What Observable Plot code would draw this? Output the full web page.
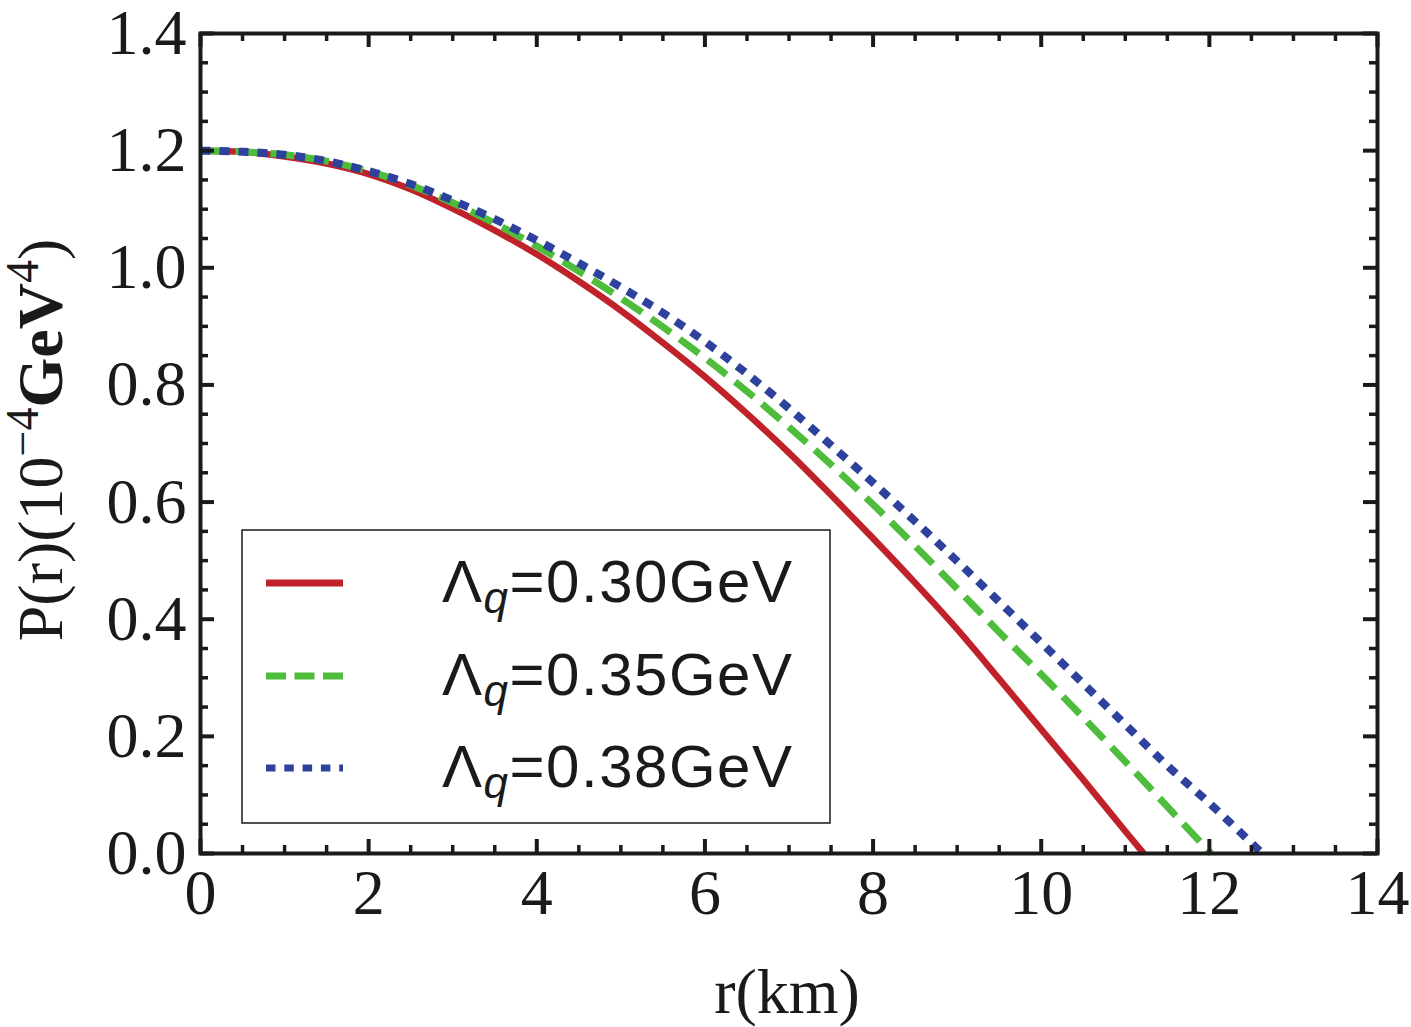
<!DOCTYPE html>
<html>
<head>
<meta charset="utf-8">
<script src="https://cdn.jsdelivr.net/npm/d3@7"></script>
<script src="https://cdn.jsdelivr.net/npm/@observablehq/plot@0.6"></script>
<style>
  body { margin: 0; background: #fff; }
  #chart { position: relative; width: 1411px; height: 1027px; }
</style>
</head>
<body>
<div id="chart"></div>
<script>
// ---- data ----
const seriesNames = ["0.30", "0.35", "0.38"];
const seriesColors = ["#c0222a", "#4dbd3b", "#2e419c"];

const rRed = [0,0.5,1,1.5,2,2.5,3,3.5,4,4.5,5,5.5,6,6.5,7,7.5,8,8.5,9,9.5,10,10.5,11,11.22];
const pRed = [1.200,1.198,1.190,1.178,1.160,1.134,1.101,1.064,1.023,0.977,0.927,0.872,0.814,0.751,0.684,0.612,0.538,0.462,0.383,0.298,0.212,0.126,0.038,0];

const rGreen = [0,0.5,1,1.5,2,2.5,3,3.5,4,4.5,5,5.5,6,6.5,7,7.5,8,8.5,9,9.5,10,10.5,11,11.5,12.02];
const pGreen = [1.200,1.198,1.193,1.182,1.165,1.141,1.111,1.076,1.037,0.994,0.948,0.899,0.846,0.789,0.728,0.664,0.596,0.525,0.452,0.378,0.306,0.232,0.157,0.080,0];

const rBlue = [0,0.5,1,1.5,2,2.5,3,3.5,4,4.5,5,5.5,6,6.5,7,7.5,8,8.5,9,9.5,10,10.5,11,11.5,12,12.5,12.63];
const pBlue = [1.200,1.198,1.193,1.182,1.165,1.143,1.115,1.083,1.047,1.008,0.967,0.923,0.874,0.819,0.760,0.697,0.633,0.567,0.499,0.430,0.360,0.290,0.220,0.150,0.086,0.018,0];

const xMajor = [0,2,4,6,8,10,12,14];
const xMinor = [0.5,1,1.5,2.5,3,3.5,4.5,5,5.5,6.5,7,7.5,8.5,9,9.5,10.5,11,11.5,12.5,13,13.5];
const yMajor = [0,0.2,0.4,0.6,0.8,1.0,1.2,1.4];
const yMinor = [0.05,0.1,0.15,0.25,0.3,0.35,0.45,0.5,0.55,0.65,0.7,0.75,0.85,0.9,0.95,1.05,1.1,1.15,1.25,1.3,1.35];

// ---- build table ----
const rows = [];
[[rRed, pRed], [rGreen, pGreen], [rBlue, pBlue]].forEach(([rs, ps], i) => {
  rs.forEach((r, j) => rows.push({series: seriesNames[i], r, p: ps[j]}));
});
const bySeries = name => rows.filter(d => d.series === name);

// ---- layout ----
const W = 1411, H = 1027;
const mL = 200, mR = 34, mT = 33, mB = 174;
const innerW = W - mL - mR, innerH = H - mT - mB;
const majLen = 14, minLen = 8;
const serif = "'Liberation Serif', 'Times New Roman', serif";
const sans = "'Liberation Sans', Arial, sans-serif";
const dashes = [null, "24 11", "10 9"];
const widths = [6.5, 7, 8];

const plot = Plot.plot({
  width: W, height: H,
  marginLeft: mL, marginRight: mR, marginTop: mT, marginBottom: mB,
  x: {domain: [0, 14]},
  y: {domain: [0, 1.4]},
  style: {fontFamily: serif, background: "#fff", color: "#1a1a1a", overflow: "visible"},
  marks: [
    ...seriesNames.map((name, i) => Plot.line(bySeries(name), {
      x: "r", y: "p", stroke: seriesColors[i], strokeWidth: widths[i],
      strokeDasharray: dashes[i], curve: "monotone-x", strokeLinecap: "butt"
    })),
    Plot.frame({stroke: "#1a1a1a", strokeWidth: 4}),
    Plot.tickX(xMajor, {x: d => d, insetTop: innerH - majLen, stroke: "#1a1a1a", strokeWidth: 4}),
    Plot.tickX(xMinor, {x: d => d, insetTop: innerH - minLen, stroke: "#1a1a1a", strokeWidth: 3.5}),
    Plot.tickX(xMajor, {x: d => d, insetBottom: innerH - majLen, stroke: "#1a1a1a", strokeWidth: 4}),
    Plot.tickX(xMinor, {x: d => d, insetBottom: innerH - minLen, stroke: "#1a1a1a", strokeWidth: 3.5}),
    Plot.tickY(yMajor, {y: d => d, insetRight: innerW - majLen, stroke: "#1a1a1a", strokeWidth: 4}),
    Plot.tickY(yMinor, {y: d => d, insetRight: innerW - minLen, stroke: "#1a1a1a", strokeWidth: 3.5}),
    Plot.tickY(yMajor, {y: d => d, insetLeft: innerW - majLen, stroke: "#1a1a1a", strokeWidth: 4}),
    Plot.tickY(yMinor, {y: d => d, insetLeft: innerW - minLen, stroke: "#1a1a1a", strokeWidth: 3.5}),
    Plot.axisX({ticks: xMajor, tickSize: 0, tickPadding: 15, fontSize: 64, label: null, tickFormat: d => String(d)}),
    Plot.axisY({ticks: yMajor, tickSize: 0, tickPadding: 14, fontSize: 64, label: null, tickFormat: d3.format(".1f")})
  ]
});

document.getElementById("chart").appendChild(plot);
const svg = d3.select(plot);

// axis titles
svg.append("text")
  .attr("x", 787).attr("y", 1013)
  .attr("text-anchor", "middle")
  .attr("font-family", serif).attr("font-size", 64).attr("fill", "#1a1a1a")
  .text("r(km)");

const yl = svg.append("text")
  .attr("transform", "translate(62,440) rotate(-90)")
  .attr("text-anchor", "middle")
  .attr("font-family", serif).attr("font-size", 64).attr("fill", "#1a1a1a");
yl.append("tspan").text("P(r)(10");
yl.append("tspan").attr("font-size", 46).attr("dy", -24).text("\u22124");
yl.append("tspan").attr("font-weight", "bold").attr("dy", 24).text("GeV");
yl.append("tspan").attr("font-size", 46).attr("dy", -24).text("4");
yl.append("tspan").attr("dy", 24).text(")");

// legend
const lg = svg.append("g");
lg.append("rect").attr("x", 242).attr("y", 530).attr("width", 588).attr("height", 293)
  .attr("fill", "#fff").attr("stroke", "#1a1a1a").attr("stroke-width", 1.5);
const legY = [583, 676, 768];
seriesNames.forEach((name, i) => {
  lg.append("line").attr("x1", 266).attr("x2", 343).attr("y1", legY[i]).attr("y2", legY[i])
    .attr("stroke", seriesColors[i]).attr("stroke-width", 7)
    .attr("stroke-dasharray", i === 0 ? null : (i === 1 ? "20 8.5" : "9.5 8.8"));
  const t = lg.append("text").attr("x", 442).attr("y", legY[i] + 19)
    .attr("text-anchor", "start")
    .attr("font-family", sans).attr("font-size", 60).attr("letter-spacing", 1.5).attr("fill", "#1a1a1a");
  t.append("tspan").text("\u039B");
  t.append("tspan").attr("font-size", 44).attr("font-style", "italic").attr("dy", 11).text("q");
  t.append("tspan").attr("dy", -11).text("=" + name + "GeV");
});
</script>
</body>
</html>
